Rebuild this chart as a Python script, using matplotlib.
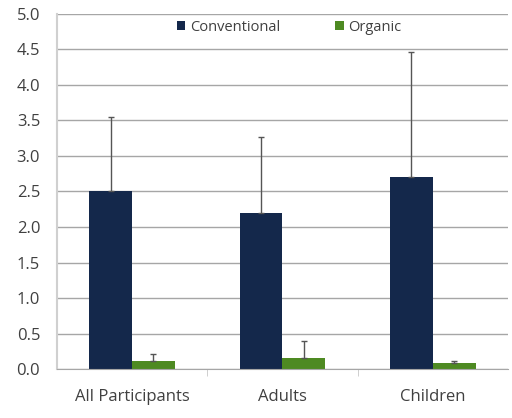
import numpy as np
import matplotlib.pyplot as plt

# Mean values and upper error for each group
groups = ['All Participants', 'Adults', 'Children']
conventional = [2.5, 2.2, 2.71]
organic = [0.11, 0.15, 0.08]
conventional_err = [1.05, 1.07, 1.75]
organic_err = [0.10, 0.24, 0.04]

plt.rcParams['font.family'] = ['Open Sans', 'DejaVu Sans']

fig = plt.figure(figsize=(5.12, 4.18), dpi=100)
ax = fig.add_axes([0.111, 0.117, 0.881, 0.85])

x = np.arange(len(groups))
w = 0.285
ax.bar(x - w / 2, conventional, w, color='#14284b', label='Conventional',
       yerr=[np.zeros(3), conventional_err], error_kw=dict(ecolor='#555555', elinewidth=1, capsize=2.5, capthick=1))
ax.bar(x + w / 2, organic, w, color='#4e8a22', label='Organic',
       yerr=[np.zeros(3), organic_err], error_kw=dict(ecolor='#555555', elinewidth=1, capsize=2.5, capthick=1))

ax.set_xlim(-0.5, 2.5)
ax.set_ylim(0, 5.0)
ax.set_yticks(np.arange(0, 5.01, 0.5))
ax.set_yticklabels([f'{v:.1f}' for v in np.arange(0, 5.01, 0.5)])
ax.set_xticks(x)
ax.set_xticklabels(groups)
ax.set_axisbelow(True)
ax.grid(axis='y', color='#a6a6a6', linewidth=1)

# category separators on the x axis
ax.set_xticks([0.5, 1.5], minor=True)
ax.tick_params(axis='x', which='major', length=0, pad=14, labelsize=12, colors='#404040')
ax.tick_params(axis='x', which='minor', length=5, color='#c8c8c8', direction='out')
ax.tick_params(axis='y', length=0, pad=12, labelsize=12, colors='#404040')

for s in ['top', 'right']:
    ax.spines[s].set_visible(False)
ax.spines['left'].set_color('#d0d0d0')
ax.spines['left'].set_linewidth(1.5)
ax.spines['bottom'].set_color('#a6a6a6')

ax.legend(loc='upper center', bbox_to_anchor=(0.515, 1.02), ncol=2, frameon=False,
          fontsize=10.5, handlelength=0.6, handleheight=0.6, handletextpad=0.3, columnspacing=3.8,
          labelcolor='#404040')

fig.savefig('out.png', dpi=100, facecolor='white')
